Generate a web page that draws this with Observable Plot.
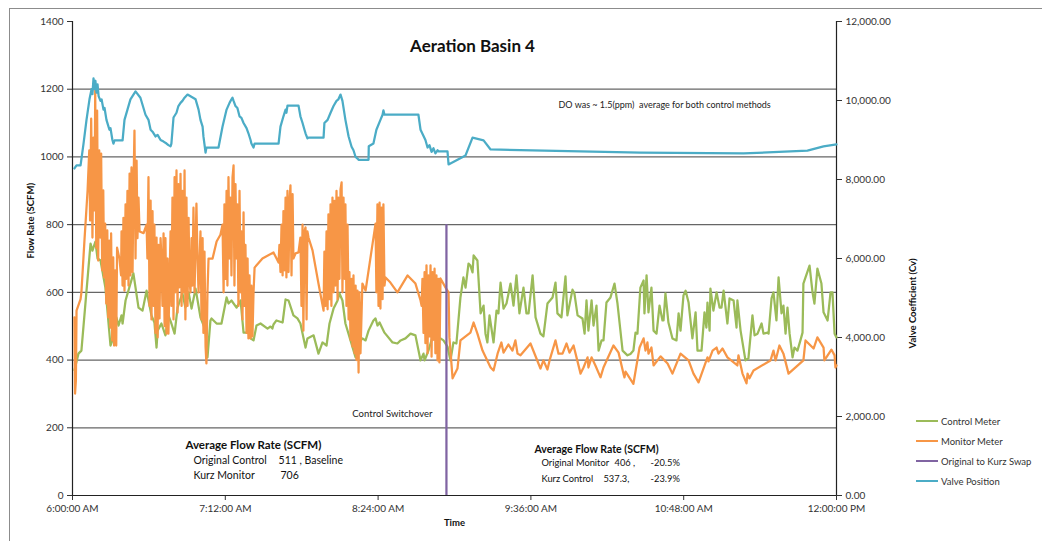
<!DOCTYPE html>
<html>
<head>
<meta charset="utf-8">
<script src="https://cdn.jsdelivr.net/npm/d3@7"></script>
<script src="https://cdn.jsdelivr.net/npm/@observablehq/plot@0.6"></script>
<style>
  html, body { margin: 0; padding: 0; background: #fff; }
  #wrap { position: relative; width: 1042px; height: 541px; overflow: hidden; font-family: Lato, "Open Sans", sans-serif; }
  #frameBox { position: absolute; left: 9px; top: 8px; width: 1040px; height: 620px; border: 1px solid #8c8c8c; }
  #chart { position: absolute; left: 0; top: 0; }
  #legend { position: absolute; left: 916px; top: 411px; font-size: 9.5px; color: #333; }
  #legend .row { height: 20px; display: flex; align-items: center; }
  #legend .sw { width: 22px; height: 2.5px; margin-right: 3px; }
</style>
</head>
<body>
<div id="wrap">
  <div id="frameBox"></div>
  <div id="chart"></div>
  <div id="legend"></div>
</div>
<script>
// ---------------- DATA ----------------
// time = minutes after 6:00:00 AM
const xTickValues = [0, 72, 144, 216, 288, 360];
const xTickLabels = ["6:00:00 AM", "7:12:00 AM", "8:24:00 AM", "9:36:00 AM", "10:48:00 AM", "12:00:00 PM"];
const yTicks = [0, 200, 400, 600, 800, 1000, 1200, 1400];
const gridValues = [200, 400, 600, 800, 1000, 1200];
const rightTicksCv = [0, 2000, 4000, 6000, 8000, 10000, 12000];
const seriesNames = ["Control Meter", "Monitor Meter", "Original to Kurz Swap", "Valve Position"];
const seriesColors = ["#9BBB59", "#F79646", "#8064A2", "#4BACC6"];

const switchTime = 176.2;   // control switchover
const switchTop = 800;

// Control Meter (SCFM)
const control = [
[0.9,370],[2.8,419],[4.2,428],[8.5,744],[9.4,723],[10.8,750],[11.8,700],[13.2,694],[15.5,614],[17.9,443],[19.3,467],[20.7,526],[21.7,502],[23.1,532],[23.6,508],[25.0,576],[28.7,656],[31.1,555],[33.0,546],[34.9,605],[37.2,532],[38.6,511],[39.6,437],[40.1,487],[41.9,508],[43.8,473],[45.2,532],[46.6,508],[48.1,478],[49.5,555],[51.8,597],[53.2,555],[54.7,600],[56.1,552],[58.0,611],[60.3,526],[62.7,487],[63.6,408],[65.0,517],[65.5,523],[67.9,508],[70.2,508],[72.6,585],[73.5,567],[74.9,576],[77.3,555],[79.2,576],[80.6,481],[82.9,481],[83.9,464],[85.3,458],[86.7,502],[88.6,508],[91.9,493],[93.3,499],[94.2,493],[94.7,505],[96.1,517],[99.0,511],[100.4,579],[101.8,576],[104.1,532],[106.0,523],[107.4,508],[109.8,437],[110.7,464],[113.6,473],[115.9,419],[117.8,452],[119.7,443],[121.1,508],[123.0,552],[124.9,576],[125.8,597],[127.2,576],[128.6,508],[131.0,458],[133.4,408],[134.8,449],[136.6,464],[138.1,458],[139.5,487],[141.8,517],[142.8,523],[143.7,502],[144.7,511],[147.0,481],[150.8,452],[153.1,449],[154.6,458],[156.9,464],[159.3,478],[161.6,473],[164.0,399],[165.4,419],[165.9,399],[167.7,428],[169.6,467],[172.0,458],[173.4,464],[174.8,458],[176.7,440],[178.1,399],[179.5,452],[180.9,449],[182.8,585],[184.2,644],[185.2,614],[186.6,685],[187.5,679],[188.5,659],[189.0,709],[190.8,694],[192.3,538],[193.7,561],[194.6,478],[195.5,452],[196.5,532],[198.4,452],[199.8,546],[200.7,538],[201.7,629],[203.1,552],[204.5,567],[206.4,626],[207.8,561],[209.2,650],[210.6,538],[212.5,614],[213.9,538],[214.9,538],[216.8,650],[218.2,526],[220.5,478],[221.9,470],[223.8,567],[226.2,585],[227.6,629],[228.5,538],[230.4,526],[232.3,647],[233.2,532],[235.6,608],[236.5,597],[238.0,532],[240.3,523],[241.3,478],[242.2,576],[243.1,487],[244.6,576],[245.5,502],[246.9,561],[247.9,428],[249.3,458],[250.2,458],[251.6,570],[253.5,585],[255.4,626],[256.8,567],[259.2,428],[261.5,414],[262.9,418],[264.3,428],[265.3,481],[266.2,478],[267.6,614],[269.1,635],[269.5,538],[270.5,650],[271.4,541],[272.8,614],[273.8,487],[275.2,478],[276.6,561],[278.0,517],[278.5,517],[279.4,597],[280.8,511],[282.7,464],[284.6,458],[285.6,538],[286.5,487],[287.9,591],[288.9,605],[290.3,570],[292.1,464],[293.6,541],[294.5,428],[296.4,428],[297.8,541],[298.7,496],[299.2,570],[300.2,487],[300.6,611],[302.0,546],[303.5,600],[304.9,555],[305.8,555],[306.8,605],[308.6,508],[309.6,582],[311.5,576],[312.9,496],[313.3,576],[314.8,487],[317.1,399],[318.5,405],[320.4,532],[321.4,473],[322.8,478],[324.7,508],[325.6,478],[327.5,481],[328.0,478],[329.4,582],[330.3,600],[331.7,517],[332.7,644],[334.1,538],[335.0,561],[336.0,478],[336.9,555],[337.9,478],[339.3,408],[340.2,437],[341.6,428],[343.0,458],[344.0,481],[344.4,626],[345.4,644],[347.3,679],[348.7,600],[349.6,567],[351.0,670],[352.9,626],[353.9,541],[355.8,517],[357.2,600],[358.1,600],[359.1,478],[360.0,467]
];

// Monitor Meter (SCFM)
const monitor = [
[0.9,526],[1.2,301],[1.6,340],[1.9,546],[3.8,580],[4.2,600],[5.7,760],[7.1,900],
[7.9,1019],[8.3,812],[8.8,1113],[9.4,762],[9.9,1057],[10.4,842],[10.7,1196],[11.2,732],[11.6,1137],[12.1,694],[12.6,1019],[13.1,762],[13.5,1010],[14.0,665],[14.5,901],[14.9,644],[15.4,803],[15.9,567],[16.4,783],[16.8,526],[17.3,753],[17.8,496],[18.2,774],[18.7,458],[19.2,703],[19.6,443],[20.1,665],[20.6,443],
[21.0,732],[22.1,700],[22.9,650],
[23.1,780],[23.6,620],[24.0,820],[24.5,605],[25.0,860],[25.4,640],[25.9,900],[26.4,620],[26.9,951],[27.3,650],[27.8,969],[28.3,660],[28.7,900],[29.2,1078],[29.7,700],[30.2,989],[30.6,760],[31.1,880],
[31.6,780],[33.5,775],[34.9,800],
[35.3,700],[35.8,940],[36.3,560],[36.8,871],[37.2,520],[37.7,840],[38.2,560],[38.6,800],[39.1,480],[39.6,762],[40.1,467],[40.5,740],[41.0,523],[41.5,760],[41.9,700],
[42.4,560],[42.9,774],[43.4,500],[43.8,760],[44.3,478],[44.8,700],[45.2,478],
[46.2,780],[46.6,560],[47.1,880],[47.6,520],[48.1,940],[48.5,600],[49.0,960],[49.5,540],[49.9,920],[50.4,615],[50.9,950],[51.4,560],[51.8,900],[52.3,600],[52.8,960],[53.2,520],[53.7,880],[54.2,560],[54.7,820],
[55.1,640],[55.6,600],[56.1,760],[56.5,620],[57.0,850],[57.5,600],[58.4,862],[58.9,700],[59.4,600],
[60.3,780],[60.8,520],[61.3,760],[61.7,480],[62.2,720],[62.7,440],[63.1,390],[63.6,600],[64.1,700],
[66.0,700],[67.9,750],[69.7,770],[70.7,800],
[71.2,600],[71.6,860],[72.1,640],[72.6,900],[73.0,620],[73.5,940],[74.0,700],[74.4,880],[74.9,650],[75.4,940],[75.9,975],[76.3,620],[76.8,920],[77.3,700],[77.7,860],[78.2,560],[78.7,900],[79.2,600],[79.6,780],[80.1,520],[80.6,836],[81.0,560],[81.5,740],[82.0,480],[82.5,700],[82.9,464],[83.4,650],[83.9,464],[84.3,620],[84.8,470],[85.3,600],[85.8,673],
[89.5,700],[94.7,718],[97.1,688],
[97.5,740],[98.0,660],[98.5,800],[99.0,650],[99.4,840],[99.9,665],[100.4,880],[100.8,644],[101.3,900],[101.8,660],[102.3,870],[102.7,916],[103.2,650],[103.7,890],[104.1,700],
[105.1,715],[106.5,718],[107.4,762],[107.9,560],[108.4,800],[108.8,487],[109.3,780],[109.8,792],[110.3,520],[110.7,780],[111.2,762],[113.1,724],[115.9,626],[118.3,546],
[118.7,720],[119.2,560],[119.7,780],[120.2,550],[120.6,830],[121.1,580],[121.6,860],[122.0,560],[122.5,880],[123.0,600],[123.5,870],[123.9,620],[124.4,900],[124.9,580],[125.3,880],[125.8,640],[126.3,905],[126.8,925],[127.2,600],[127.7,880],[128.2,640],[128.6,860],[129.1,560],[129.6,800],
[130.1,520],[130.5,660],[131.0,460],[131.5,640],[131.9,440],[132.4,650],[132.9,420],[133.4,620],[133.8,400],[134.3,605],[134.8,363],[135.2,600],[135.7,420],[136.6,626],[138.1,605],[141.4,744],[142.8,803],
[143.2,600],[143.7,860],[144.2,560],[144.7,865],[145.1,552],[145.6,850],[146.1,580],[146.5,860],[147.0,620],[147.5,644],[149.8,629],[153.1,600],[157.9,650],[161.6,626],[164.0,576],
[164.5,560],[164.9,640],[165.4,480],[165.9,660],[166.3,450],[166.8,680],[167.3,420],[167.7,650],[168.2,470],[168.7,680],[169.2,410],[169.6,660],[170.1,460],[170.6,670],[171.0,420],[171.5,650],[172.0,399],[172.5,640],[172.9,393],[173.4,641],[175.8,614],[177.2,600],
[177.6,467],[179.1,346],[181.4,375],[182.8,458],[187.5,481],[189.0,511],[190.8,478],[193.2,428],[197.0,378],[198.4,369],[200.3,419],[202.1,452],[203.1,422],[205.4,446],[207.3,428],[208.7,458],[209.7,419],[211.1,414],[215.8,449],[220.5,375],[221.9,399],[223.8,372],[224.8,399],[227.6,458],[229.0,419],[230.9,419],[232.8,449],[234.2,422],[236.1,443],[239.4,360],[240.8,378],[242.7,408],[243.1,378],[244.6,408],[246.4,384],[248.8,349],[250.2,378],[254.9,443],[257.3,422],[259.6,360],[260.1,349],[260.6,366],[264.3,330],[267.2,437],[269.1,464],[270.0,428],[270.9,452],[271.4,419],[272.8,437],[273.8,384],[277.1,411],[280.4,390],[282.7,360],[286.5,419],[290.3,399],[292.6,360],[295.0,334],[299.2,408],[299.7,396],[301.6,428],[303.5,437],[304.4,419],[306.3,434],[308.6,408],[313.3,384],[313.8,414],[315.7,360],[317.6,331],[318.1,360],[319.0,346],[320.9,369],[328.9,399],[330.3,428],[331.3,399],[333.1,443],[335.0,419],[337.4,360],[344.4,399],[345.4,458],[349.2,434],[351.0,467],[353.9,437],[354.3,399],[357.6,431],[359.1,414],[359.5,378],[360.0,384]
];

// Valve Position (Cv, secondary axis)
const valve = [
[0.9,8280],[1.9,8360],[3.8,8360],[5.2,8910],[6.6,9510],[8.0,10030],[9.0,10290],[9.4,10160],[9.9,10560],[10.4,10290],[10.8,10500],[11.3,10200],[11.8,10410],[12.3,10110],[13.2,9990],[13.7,10030],[14.6,9770],[15.1,9810],[16.0,9510],[16.5,9420],[17.4,9260],[17.9,9300],[18.8,9000],[19.3,8910],[19.8,8990],[23.6,8990],[24.5,9510],[25.9,9770],[27.3,10030],[29.7,10230],[32.0,10070],[34.4,9640],[35.8,9510],[36.8,9260],[37.7,9210],[39.1,9090],[40.1,9130],[41.5,9000],[42.9,8960],[44.3,8910],[45.2,8870],[46.2,8840],[46.6,8910],[47.6,9570],[49.0,9690],[49.9,9860],[50.9,9940],[51.8,9990],[52.8,10070],[54.2,10150],[58.0,10030],[59.4,9770],[60.3,9510],[61.3,9340],[61.7,9090],[62.7,8680],[63.1,8810],[68.8,8810],[70.7,9340],[72.6,9770],[74.0,9940],[74.9,10030],[75.4,10070],[75.9,9990],[76.8,9860],[77.7,9810],[78.7,9600],[79.6,9560],[80.6,9430],[82.0,9300],[82.9,9170],[83.9,9000],[84.3,8910],[85.3,8810],[85.8,8910],[97.1,8910],[98.0,9340],[99.4,9600],[100.4,9770],[100.8,9690],[101.3,9870],[106.5,9870],[107.4,9600],[108.4,9430],[109.3,9260],[109.8,9170],[110.7,9040],[111.2,9060],[118.3,9060],[118.7,9430],[120.2,9510],[121.6,9690],[123.0,9860],[124.4,9990],[125.3,10030],[126.3,10150],[127.2,9990],[128.6,9510],[130.1,9090],[131.5,8830],[132.4,8740],[133.4,8570],[134.3,8530],[134.8,8500],[139.5,8500],[139.6,8840],[141.8,8910],[143.2,9260],[145.1,9510],[146.1,9640],[146.5,9750],[147.0,9640],[163.0,9640],[164.0,9260],[166.3,9000],[167.3,8810],[168.2,8870],[169.2,8700],[170.1,8790],[171.0,8660],[172.0,8740],[172.5,8710],[176.7,8710],[177.2,8380],[185.2,8610],[188.5,9060],[193.7,8990],[197.0,8760],[267.6,8680],[316.2,8660],[346.3,8730],[353.9,8840],[360.0,8890]
];

// ---------------- CHART ----------------
const k = 1400 / 12000; // Cv -> primary axis units
const txt = "#333";

const chart = Plot.plot({
  width: 1042,
  height: 541,
  marginLeft: 72,
  marginRight: 206,
  marginTop: 21,
  marginBottom: 46,
  x: { domain: [0, 360], label: null },
  y: { domain: [0, 1400], label: null },
  style: { fontFamily: "Lato, 'Open Sans', sans-serif", fontSize: "10px", color: txt, background: "transparent", overflow: "visible" },
  marks: [
    Plot.ruleY(gridValues, { stroke: "#666", strokeWidth: 1.2 }),
    Plot.axisY(yTicks, { anchor: "left", tickSize: 5, tickPadding: 4, tickFormat: d => String(d), label: null, fontSize: 10 }),
    Plot.axisY(rightTicksCv.map(v => v * k), { anchor: "right", tickSize: 5, tickPadding: 4,
      tickFormat: d => (d / k).toLocaleString("en-US", { minimumFractionDigits: 2, maximumFractionDigits: 2 }), label: null, fontSize: 10 }),
    Plot.axisX(xTickValues, { anchor: "bottom", tickSize: 5, tickPadding: 4, tickFormat: (d, i) => xTickLabels[i], label: null, fontSize: 10 }),
    Plot.ruleX([0], { stroke: "#222", strokeWidth: 1.2 }),
    Plot.ruleX([360], { stroke: "#222", strokeWidth: 1.2 }),
    Plot.ruleY([0], { stroke: "#222", strokeWidth: 1.2 }),
    Plot.line(control, { x: d => d[0], y: d => d[1], stroke: seriesColors[0], strokeWidth: 2.25, strokeLinejoin: "round" }),
    Plot.line(monitor, { x: d => d[0], y: d => d[1], stroke: seriesColors[1], strokeWidth: 2.25, strokeLinejoin: "round" }),
    Plot.ruleX([switchTime], { y1: 0, y2: switchTop, stroke: seriesColors[2], strokeWidth: 2.25 }),
    Plot.line(valve, { x: d => d[0], y: d => d[1] * k, stroke: seriesColors[3], strokeWidth: 2.25, strokeLinejoin: "round" }),
    // titles
    Plot.text(["Aeration Basin 4"], { x: 188.5, y: 1326, fontSize: 17, fontWeight: "bold", fill: "#111" }),
    Plot.text(["Flow Rate (SCFM)"], { frameAnchor: "left", dx: -42, rotate: -90, fontSize: 9.5, fontWeight: "bold", fill: "#111" }),
    Plot.text(["Valve Coefficient (Cv)"], { frameAnchor: "right", dx: 76, rotate: -90, fontSize: 9.5, fontWeight: "bold", fill: "#111" }),
    Plot.text(["Time"], { frameAnchor: "bottom", dy: 30, fontSize: 9.5, fontWeight: "bold", fill: "#111" }),
    // annotations
    Plot.text(["DO was ~ 1.5(ppm)\u00a0\u00a0average for both control methods"], { x: 229.0, y: 1152, textAnchor: "start", fontSize: 9, fill: "#222" }),
    Plot.text(["Control Switchover"], { x: 169.6, y: 242, textAnchor: "end", fontSize: 9.5, fill: "#222" }),
    Plot.text(["Average Flow Rate (SCFM)"], { x: 53.2, y: 148, textAnchor: "start", fontSize: 11.5, fontWeight: "bold", fill: "#111" }),
    Plot.text(["Original Control"], { x: 57.0, y: 103, textAnchor: "start", fontSize: 10.5, fill: "#111" }),
    Plot.text(["511 , Baseline"], { x: 97.1, y: 103, textAnchor: "start", fontSize: 10.5, fill: "#111" }),
    Plot.text(["Kurz Monitor"], { x: 57.0, y: 59, textAnchor: "start", fontSize: 10.5, fill: "#111" }),
    Plot.text(["706"], { x: 98.0, y: 59, textAnchor: "start", fontSize: 10.5, fill: "#111" }),
    Plot.text(["Average Flow Rate (SCFM)"], { x: 217.7, y: 136, textAnchor: "start", fontSize: 10.5, fontWeight: "bold", fill: "#111" }),
    Plot.text(["Original Monitor"], { x: 221.0, y: 95, textAnchor: "start", fontSize: 9.3, fill: "#111" }),
    Plot.text(["406 ,"], { x: 255.4, y: 95, textAnchor: "start", fontSize: 9.3, fill: "#111" }),
    Plot.text(["-20.5%"], { x: 272.4, y: 95, textAnchor: "start", fontSize: 9.3, fill: "#111" }),
    Plot.text(["Kurz Control"], { x: 221.0, y: 50, textAnchor: "start", fontSize: 9.3, fill: "#111" }),
    Plot.text(["537.3,"], { x: 250.2, y: 50, textAnchor: "start", fontSize: 9.3, fill: "#111" }),
    Plot.text(["-23.9%"], { x: 272.4, y: 50, textAnchor: "start", fontSize: 9.3, fill: "#111" })
  ]
});
document.getElementById("chart").appendChild(chart);

// legend
const legend = document.getElementById("legend");
seriesNames.forEach((name, i) => {
  const row = document.createElement("div");
  row.className = "row";
  const sw = document.createElement("span");
  sw.className = "sw";
  sw.style.background = seriesColors[i];
  const lab = document.createElement("span");
  lab.textContent = name;
  row.appendChild(sw);
  row.appendChild(lab);
  legend.appendChild(row);
});
</script>
</body>
</html>
